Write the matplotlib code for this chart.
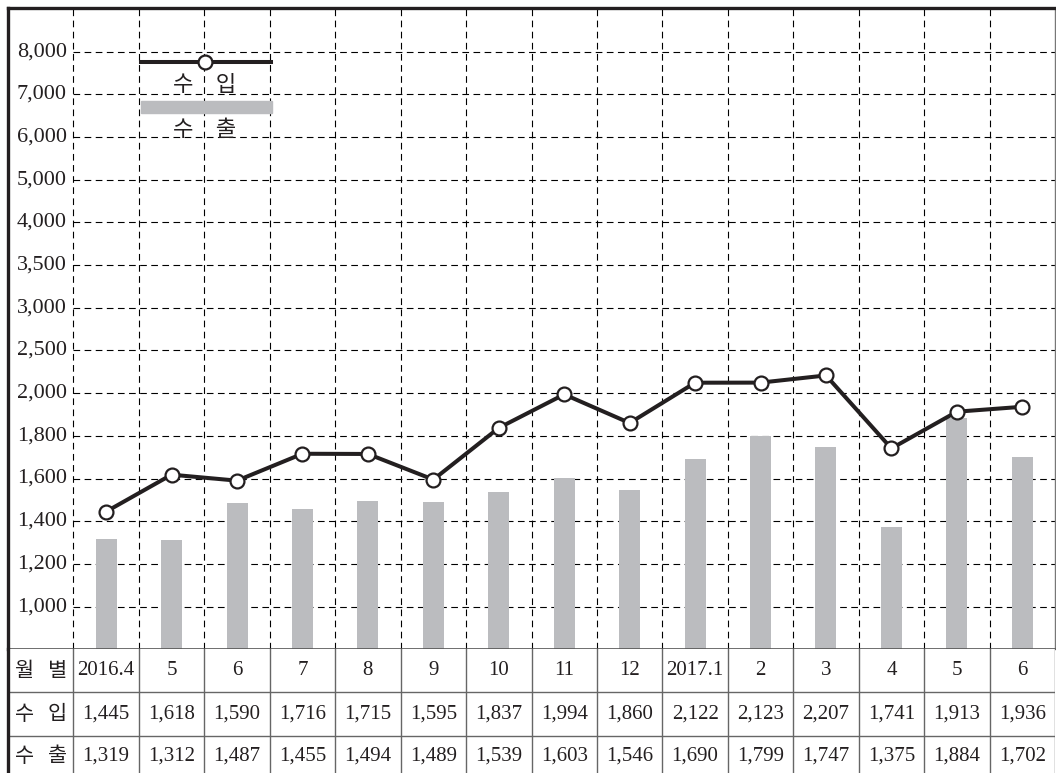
import matplotlib.pyplot as plt
from matplotlib.patches import Rectangle
import numpy as np

# 월별 수입/수출
months = ['2016.4', '5', '6', '7', '8', '9', '10', '11', '12',
          '2017.1', '2', '3', '4', '5', '6']
imports = [1445, 1618, 1590, 1716, 1715, 1595, 1837, 1994, 1860,
           2122, 2123, 2207, 1741, 1913, 1936]
exports = [1319, 1312, 1487, 1455, 1494, 1489, 1539, 1603, 1546,
           1690, 1799, 1747, 1375, 1884, 1702]
ytick_vals = [1000, 1200, 1400, 1600, 1800, 2000, 2500, 3000, 3500,
              4000, 5000, 6000, 7000, 8000]

# 눈금 간격이 같은 구간별 선형 축
anchor_v = np.array([0] + ytick_vals + [10000], dtype=float)
anchor_p = np.array([-5] + list(range(len(ytick_vals))) + [15], dtype=float)

def fwd(v):
    return np.interp(v, anchor_v, anchor_p)

def inv(p):
    return np.interp(p, anchor_p, anchor_v)

serif = 'Liberation Serif'
kor = 'Noto Sans CJK KR'
W, H = 1056, 773
fig = plt.figure(figsize=(W / 100, H / 100), dpi=100)

left, right, top, tbl_top = 8, 1055, 8, 649.3
ax = fig.add_axes([left / W, 1 - tbl_top / H, (right - left) / W, (tbl_top - top) / H])
ax.set_yscale('function', functions=(fwd, inv))
x = np.arange(len(months))
ax.set_xlim(-1.5, 14.5)
ax.set_ylim(800, 9020)

# grid
for xv in np.arange(-0.5, 14, 1):
    ax.axvline(xv, color='black', lw=0.8, ls=(0, (6, 4)), zorder=1)
for v in ytick_vals:
    ax.plot([-0.5, 14.5], [v, v], color='black', lw=0.8, ls=(0, (6, 4)), zorder=1)
    ax.text(-0.6, v, f'{v:,}', ha='right', va='center', fontsize=16,
            family=serif, color='#231f20')

ax.bar(x, exports, width=0.32, color='#bbbcbf', zorder=2)
ax.plot(x, imports, color='#231f20', lw=2.9, marker='o', markersize=10,
        markerfacecolor='white', markeredgecolor='#231f20', markeredgewidth=1.6,
        zorder=3)

# legend
ax.plot([0.1267, 0.2509], [0.9158, 0.9158], transform=ax.transAxes,
        color='#231f20', lw=2.9, zorder=4)
ax.plot([0.188], [0.9158], transform=ax.transAxes, marker='o', markersize=10,
        markerfacecolor='white', markeredgecolor='#231f20', markeredgewidth=1.6,
        zorder=5)
ax.text(0.188, 0.880, '수\u3000입', transform=ax.transAxes, ha='center', va='center',
        fontsize=16, family=kor, weight='medium', color='#231f20', zorder=5)
ax.add_patch(Rectangle((0.1267, 0.8363), 0.1258, 0.0187, transform=ax.transAxes,
                       color='#bbbcbf', zorder=4))
ax.text(0.188, 0.8098, '수\u3000출', transform=ax.transAxes, ha='center', va='center',
        fontsize=16, family=kor, weight='medium', color='#231f20', zorder=5)

ax.set_xticks([])
ax.set_yticks([])
ax.yaxis.set_minor_locator(plt.NullLocator())
ax.spines['left'].set_linewidth(2.4)
ax.spines['left'].set_color('#231f20')
ax.spines['top'].set_linewidth(2.4)
ax.spines['top'].set_color('#231f20')
ax.spines['right'].set_linewidth(1)
ax.spines['right'].set_color('#777777')
ax.spines['bottom'].set_linewidth(1.2)
ax.spines['bottom'].set_color('#555555')

# table
tab_h = H - tbl_top
tx = fig.add_axes([left / W, 0, (right - left) / W, tab_h / H])
tx.set_xlim(-1.5, 14.5)
tx.set_ylim(tab_h, 0)
tx.set_xticks([])
tx.set_yticks([])
for s in ['top', 'right', 'bottom']:
    tx.spines[s].set_visible(False)
tx.spines['left'].set_linewidth(2.4)
tx.spines['left'].set_color('#231f20')
for yv in [42.4, 86.4]:
    tx.axhline(yv, color='#666666', lw=1)
for xv in np.arange(-0.5, 15, 1):
    tx.axvline(xv, color='#666666', lw=1)

rows = [('월   별', months), ('수   입', [f'{v:,}' for v in imports]),
        ('수   출', [f'{v:,}' for v in exports])]
for (label, vals), yc in zip(rows, [21.2, 64.4, 107.0]):
    tx.text(-1, yc, label, ha='center', va='center', fontsize=15, family=kor,
            weight='medium', color='#231f20')
    for i, s in enumerate(vals):
        tx.text(i, yc, s, ha='center', va='center', fontsize=15, family=serif,
                color='#231f20')

fig.savefig('out.png', dpi=100)
